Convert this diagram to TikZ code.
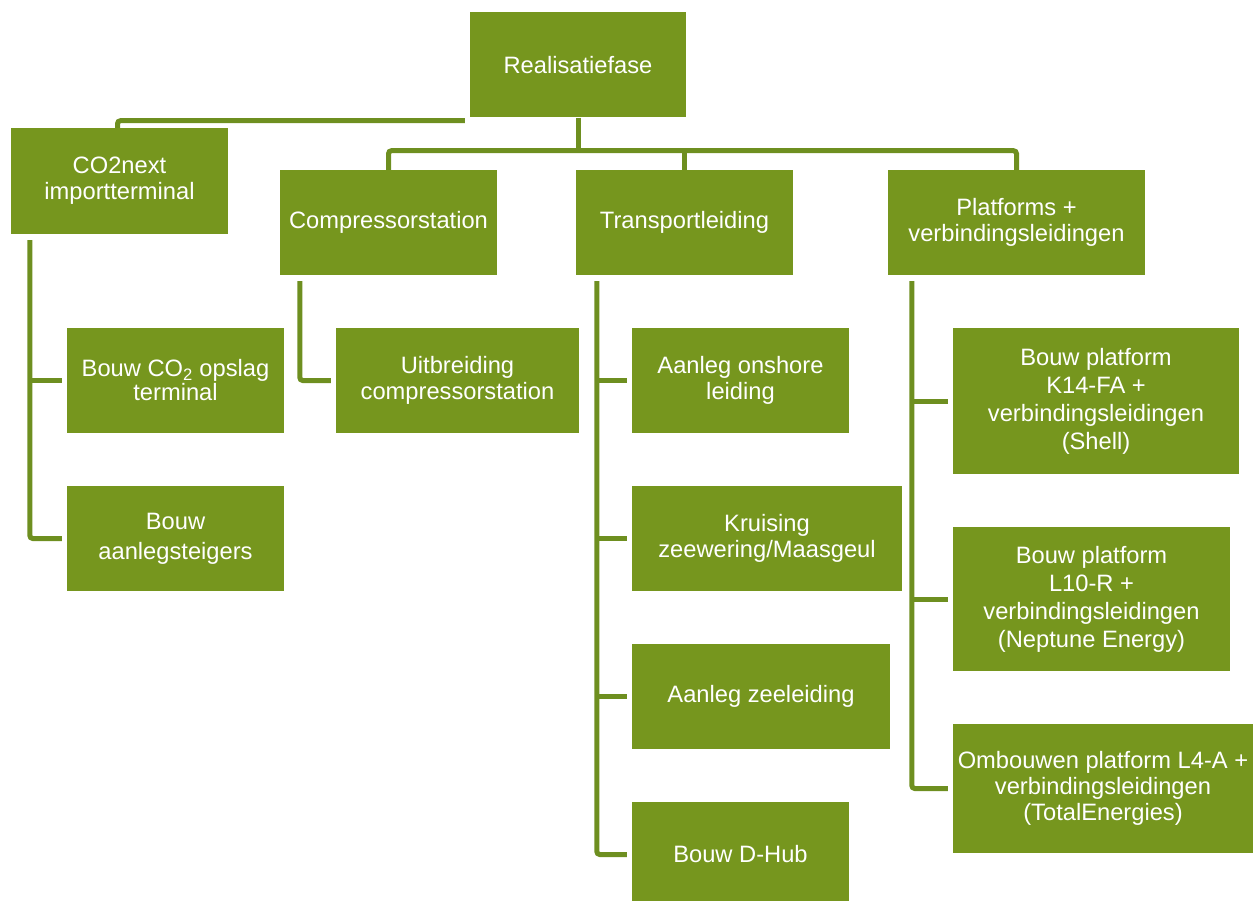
\documentclass[tikz,border=0pt]{standalone}
\usepackage{fontspec}
\setmainfont{Liberation Sans}
\usetikzlibrary{calc}
\definecolor{boxgreen}{RGB}{118,150,30}
\definecolor{linegreen}{RGB}{110,143,32}
\begin{document}
\begin{tikzpicture}[x=1pt,y=-1pt,
  box/.style={fill=boxgreen, text=white, align=center, inner sep=0pt,
    font=\fontsize{23.7}{26}\selectfont},
  conn/.style={draw=linegreen, line width=5pt, rounded corners=3pt}]
\useasboundingbox (0,0) rectangle (1253,901);
% boxes
\node[box, minimum width=216, minimum height=105] (real) at (578,65) {Realisatiefase};
\node[box, minimum width=217, minimum height=106] (co2) at (119.5,181) {\rule{0pt}{5pt}CO2next\\importterminal};
\node[box, minimum width=217, minimum height=105] (comp) at (388.5,222.5) {Compressorstation};
\node[box, minimum width=217, minimum height=105] (trans) at (684.5,222.5) {Transportleiding};
\node[box, minimum width=257, minimum height=105] (plat) at (1016.5,222.5) {Platforms +\\verbindingsleidingen};
\node[box, minimum width=217, minimum height=105] (opslag) at (175.5,380.5) {Bouw CO\textsubscript{2} opslag\\[-2pt]terminal};
\node[box, minimum width=217, minimum height=105] (steig) at (175.5,538.5) {Bouw\\[4pt]aanlegsteigers};
\node[box, minimum width=243, minimum height=105] (uitbr) at (457.5,380.5) {Uitbreiding\\compressorstation};
\node[box, minimum width=217, minimum height=105] (onsh) at (740.5,380.5) {Aanleg onshore\\leiding};
\node[box, minimum width=270, minimum height=105] (kruis) at (767,538.5) {Kruising\\zeewering/Maasgeul};
\node[box, minimum width=258, minimum height=105] (zee) at (761,696.5) {Aanleg zeeleiding};
\node[box, minimum width=217, minimum height=105] (dhub) at (740.5,854.5) {Bouw D-Hub};
\node[box, minimum width=286, minimum height=146, font=\fontsize{23.7}{28}\selectfont] (k14) at (1096,401) {Bouw platform\\K14-FA +\\verbindingsleidingen\\(Shell)};
\node[box, minimum width=277, minimum height=144, font=\fontsize{23.7}{28}\selectfont] (l10) at (1091.5,599) {Bouw platform\\L10-R +\\verbindingsleidingen\\(Neptune Energy)};
\node[box, minimum width=300, minimum height=129] (l4a) at (1103,788.5) {Ombouwen platform L4-A +\\verbindingsleidingen\\(TotalEnergies)};
% top connectors
\draw[conn] ($(real.south west)+(-5,3)$) -| ($(co2.north)+(-2,0)$);
\draw[conn] (real.south) -- ++(0,33) coordinate (hub);
\draw[conn] (comp.north) |- (hub) -| (plat.north);
\draw[conn] (trans.north) -- (trans.north |- hub);
% CO2next children
\coordinate (c1) at ($(co2.south west)+(19,6)$);
\draw[conn] (c1) |- ($(steig.west)+(-5,0)$);
\draw[conn] (c1 |- opslag.west) -- ($(opslag.west)+(-5,0)$);
% Compressorstation children
\coordinate (c2) at ($(comp.south west)+(20,6)$);
\draw[conn] (c2) |- ($(uitbr.west)+(-5,0)$);
% Transportleiding children
\coordinate (c3) at ($(trans.south west)+(21,6)$);
\draw[conn] (c3) |- ($(dhub.west)+(-5,0)$);
\draw[conn] (c3 |- onsh.west) -- ($(onsh.west)+(-5,0)$);
\draw[conn] (c3 |- kruis.west) -- ($(kruis.west)+(-5,0)$);
\draw[conn] (c3 |- zee.west) -- ($(zee.west)+(-5,0)$);
% Platforms children
\coordinate (c4) at ($(plat.south west)+(24,6)$);
\draw[conn] (c4) |- ($(l4a.west)+(-5,0)$);
\draw[conn] (c4 |- k14.west) -- ($(k14.west)+(-5,0)$);
\draw[conn] (c4 |- l10.west) -- ($(l10.west)+(-5,0)$);
\end{tikzpicture}
\end{document}
